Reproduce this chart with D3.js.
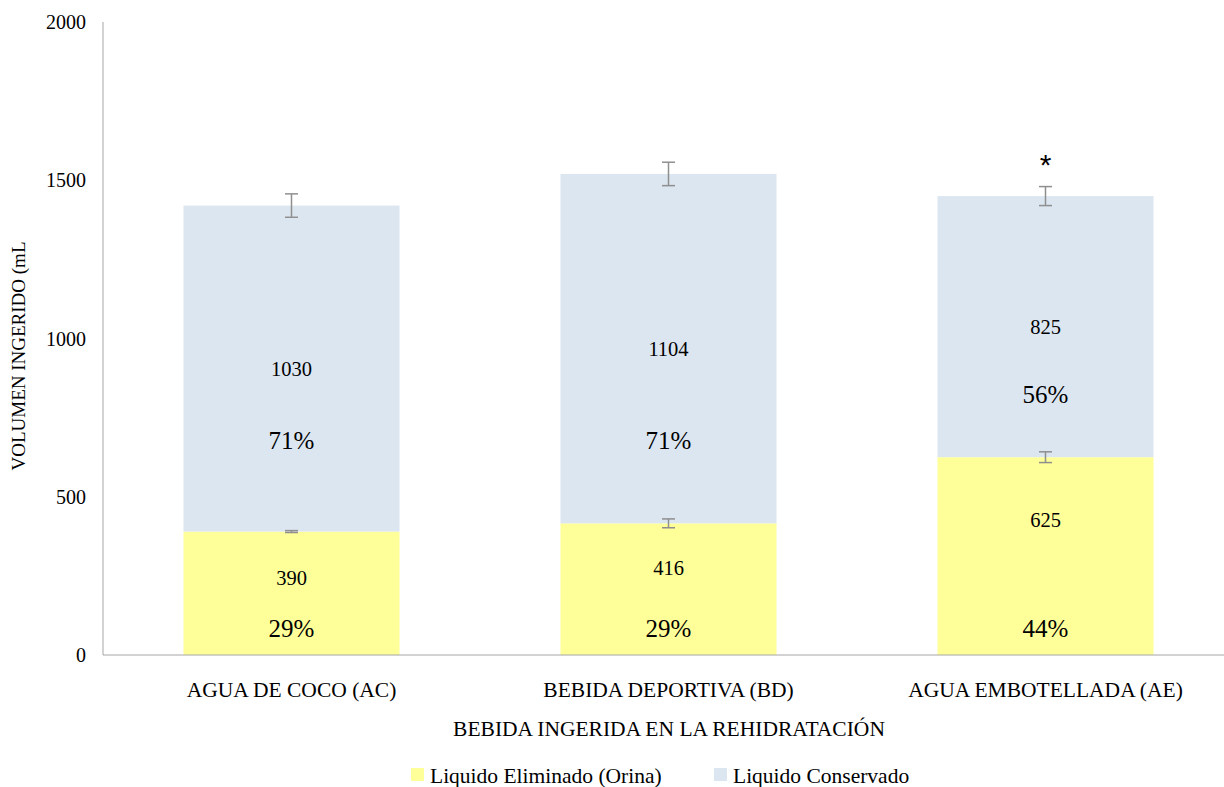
<!DOCTYPE html>
<html>
<head>
<meta charset="utf-8">
<script src="https://cdn.jsdelivr.net/npm/d3@7"></script>
<style>
  html, body { margin: 0; padding: 0; background: #fff; }
  svg { display: block; }
  svg text { font-family: "Liberation Serif", "Times New Roman", serif; fill: #000; }
</style>
</head>
<body>
<svg id="chart" width="1224" height="787"></svg>
<script>
// ---- data ----
const categories = ["AGUA DE COCO (AC)", "BEBIDA DEPORTIVA (BD)", "AGUA EMBOTELLADA (AE)"];
const eliminado = [390, 416, 625];          // Liquido Eliminado (Orina)
const conservado = [1030, 1104, 825];       // Liquido Conservado
const errEliminado = [3, 14, 17];
const errTotal = [37, 37, 30];
const pctEliminado = ["29%", "29%", "44%"];
const pctConservado = ["71%", "71%", "56%"];
const significance = ["", "", "*"];
const yTicks = [0, 500, 1000, 1500, 2000];
const seriesNames = ["Liquido Eliminado (Orina)", "Liquido Conservado"];
// annotation anchors (in mL) for the labels inside the bars
const numElimAt = [243, 275, 427];
const pctElimAt = [85, 85, 85];
const pctConsAt = [679, 679, 825];

const colors = ["#FFFF99", "#DCE6F1"];
const errColor = "#8f8f8f";

const svg = d3.select("#chart");
const x = d3.scaleBand().domain(categories).range([103, 1234]).paddingInner(0.427).paddingOuter(0.2135);
const y = d3.scaleLinear().domain([0, 2000]).range([655, 22]);

// y axis line
svg.append("line").attr("x1", 103).attr("x2", 103).attr("y1", y(2000)).attr("y2", y(0))
  .attr("stroke", "#a6a6a6").attr("stroke-width", 1);

// y tick labels
svg.append("g").selectAll("text").data(yTicks).join("text")
  .attr("x", 86).attr("y", d => y(d)).attr("dy", "0.35em")
  .attr("text-anchor", "end").attr("font-size", 20)
  .text(d => d);

// stacked data
const rows = categories.map((c, i) => ({cat: c, e: eliminado[i], k: conservado[i]}));
const stack = d3.stack().keys(["e", "k"])(rows);

const g = svg.append("g");
stack.forEach((layer, li) => {
  g.append("g").selectAll("rect").data(layer).join("rect")
    .attr("x", d => x(d.data.cat))
    .attr("width", x.bandwidth())
    .attr("y", d => y(d[1]))
    .attr("height", d => y(d[0]) - y(d[1]))
    .attr("fill", colors[li]);
});

svg.append("line").attr("x1", 103).attr("x2", 1224).attr("y1", y(0)).attr("y2", y(0))
  .attr("stroke", "#a6a6a6").attr("stroke-width", 1);

// error bars
function errBar(cx, v, e) {
  const eg = svg.append("g").attr("stroke", errColor).attr("stroke-width", 1.5);
  eg.append("line").attr("x1", cx).attr("x2", cx).attr("y1", y(v + e)).attr("y2", y(v - e));
  eg.append("line").attr("x1", cx - 6.5).attr("x2", cx + 6.5).attr("y1", y(v + e)).attr("y2", y(v + e));
  eg.append("line").attr("x1", cx - 6.5).attr("x2", cx + 6.5).attr("y1", y(v - e)).attr("y2", y(v - e));
}
categories.forEach((c, i) => {
  const cx = x(c) + x.bandwidth() / 2;
  errBar(cx, eliminado[i], errEliminado[i]);
  errBar(cx, eliminado[i] + conservado[i], errTotal[i]);
  if (significance[i]) {
    svg.append("text").attr("x", cx).attr("y", y(eliminado[i] + conservado[i] + errTotal[i]) - 22)
      .attr("dy", "0.35em").attr("text-anchor", "middle").attr("font-size", 30)
      .style("font-family", "Liberation Sans, Arial, sans-serif").text(significance[i]);
  }
  // labels
  const lab = (val, txt, size) => svg.append("text").attr("x", cx).attr("y", y(val))
    .attr("dy", "0.35em").attr("text-anchor", "middle").attr("font-size", size).text(txt);
  lab(eliminado[i] + conservado[i] / 2, conservado[i], 20.5);
  lab(pctConsAt[i], pctConservado[i], 25);
  lab(numElimAt[i], eliminado[i], 20.5);
  lab(pctElimAt[i], pctEliminado[i], 25);
});

// category labels
svg.append("g").selectAll("text").data(categories).join("text")
  .attr("x", d => x(d) + x.bandwidth() / 2).attr("y", 689).attr("dy", "0.35em")
  .attr("text-anchor", "middle").attr("font-size", 21.5).text(d => d);

// axis titles
svg.append("text").attr("x", 669).attr("y", 728).attr("dy", "0.35em")
  .attr("text-anchor", "middle").attr("font-size", 21.5).text("BEBIDA INGERIDA EN LA REHIDRATACIÓN");
svg.append("text").attr("transform", "translate(18,356) rotate(-90)").attr("dy", "0.35em")
  .attr("text-anchor", "middle").attr("font-size", 19).text("VOLUMEN INGERIDO (mL");

// legend
const legendX = [411, 714];
seriesNames.forEach((n, i) => {
  svg.append("rect").attr("x", legendX[i]).attr("y", 768).attr("width", 13).attr("height", 13).attr("fill", colors[i]);
  svg.append("text").attr("x", legendX[i] + 19).attr("y", 775).attr("dy", "0.35em")
    .attr("font-size", 21.5).text(n);
});
</script>
</body>
</html>
